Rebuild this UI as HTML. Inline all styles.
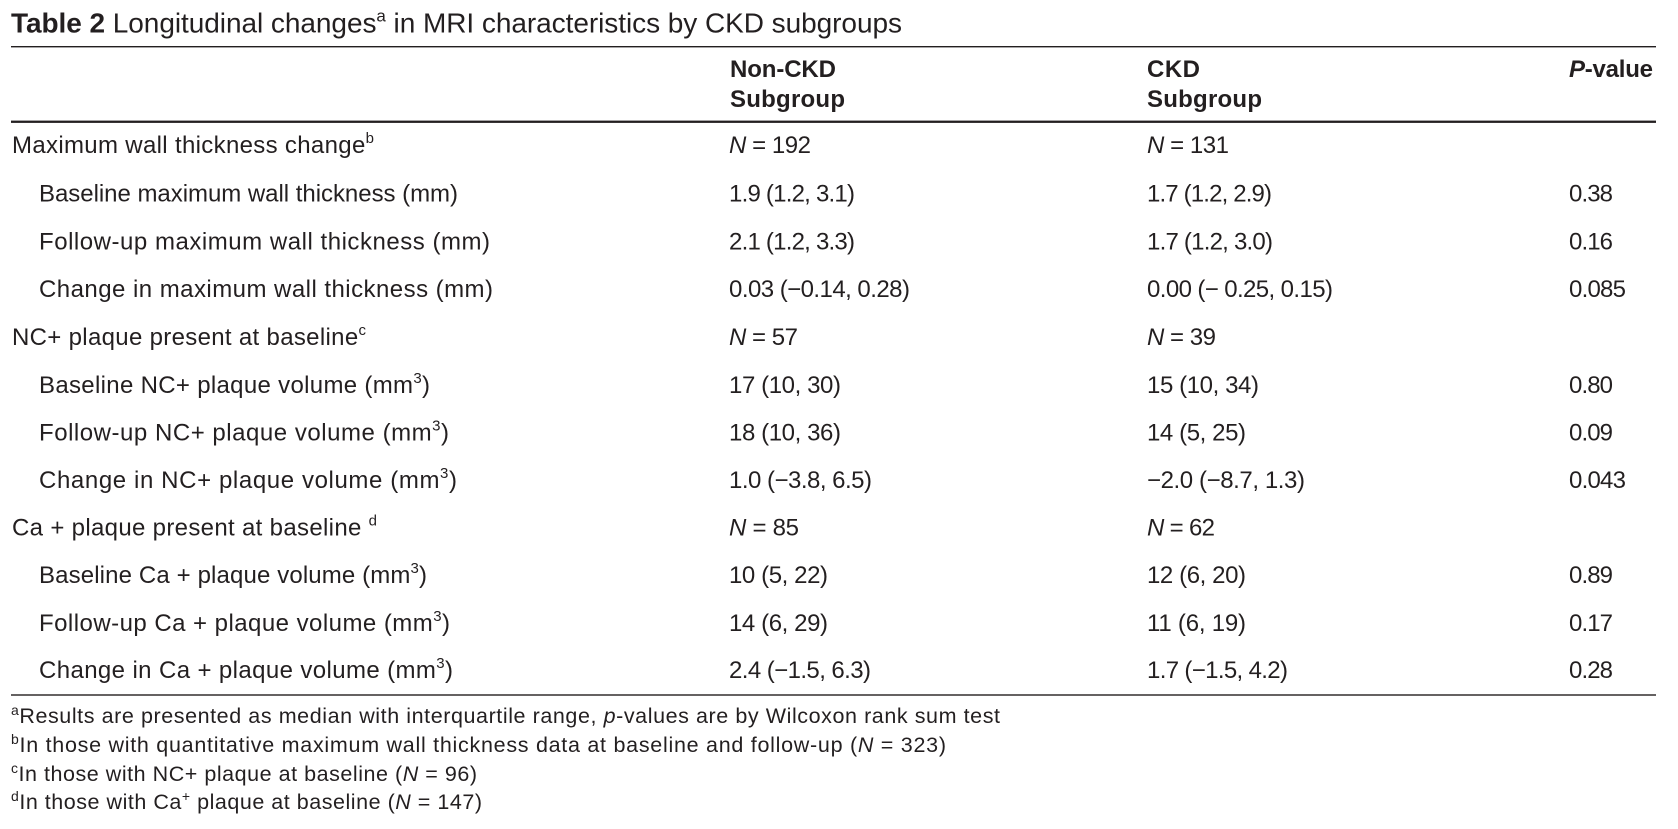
<!DOCTYPE html>
<html>
<head>
<meta charset="utf-8">
<style>
html,body{margin:0;padding:0;background:#fff;width:1678px;height:829px;overflow:hidden}
svg{display:block}
</style>
</head>
<body>
<svg width="1678" height="829" viewBox="0 0 1678 829" xmlns="http://www.w3.org/2000/svg" font-family="'Liberation Sans', Arial, sans-serif" fill="#231f20">
<!-- Title -->
<text x="11" y="32.5" font-size="28" textLength="891"><tspan font-weight="bold">Table 2</tspan> Longitudinal changes<tspan font-size="17" dy="-11">a</tspan><tspan dy="11"> in MRI characteristics by CKD subgroups</tspan></text>

<!-- Rules -->
<rect x="11" y="46" width="1645" height="1.4" fill="#231f20"/>
<rect x="11" y="120.6" width="1645" height="2.3" fill="#231f20"/>
<rect x="11" y="694.3" width="1645" height="1.4" fill="#231f20"/>

<!-- Header -->
<g font-weight="bold" font-size="24">
<text x="730" y="77" textLength="106">Non-CKD</text>
<text x="730" y="107" textLength="115">Subgroup</text>
<text x="1147" y="77" textLength="53">CKD</text>
<text x="1147" y="107" textLength="115">Subgroup</text>
<text x="1569" y="77" textLength="84"><tspan font-style="italic">P</tspan>-value</text>
</g>

<!-- Row labels -->
<g font-size="24">
<text x="12" y="153" textLength="362">Maximum wall thickness change<tspan font-size="15" dy="-10">b</tspan></text>
<text x="39" y="201.5" textLength="419">Baseline maximum wall thickness (mm)</text>
<text x="39" y="249.5" textLength="451">Follow-up maximum wall thickness (mm)</text>
<text x="39" y="297" textLength="454">Change in maximum wall thickness (mm)</text>
<text x="12" y="345" textLength="354">NC+ plaque present at baseline<tspan font-size="15" dy="-10">c</tspan></text>
<text x="39" y="393" textLength="391">Baseline NC+ plaque volume (mm<tspan font-size="15" dy="-10">3</tspan><tspan dy="10">)</tspan></text>
<text x="39" y="440.5" textLength="410">Follow-up NC+ plaque volume (mm<tspan font-size="15" dy="-10">3</tspan><tspan dy="10">)</tspan></text>
<text x="39" y="488" textLength="418">Change in NC+ plaque volume (mm<tspan font-size="15" dy="-10">3</tspan><tspan dy="10">)</tspan></text>
<text x="12" y="535.5" textLength="365">Ca + plaque present at baseline <tspan font-size="15" dy="-10">d</tspan></text>
<text x="39" y="583" textLength="388">Baseline Ca + plaque volume (mm<tspan font-size="15" dy="-10">3</tspan><tspan dy="10">)</tspan></text>
<text x="39" y="631" textLength="411">Follow-up Ca + plaque volume (mm<tspan font-size="15" dy="-10">3</tspan><tspan dy="10">)</tspan></text>
<text x="39" y="678" textLength="414">Change in Ca + plaque volume (mm<tspan font-size="15" dy="-10">3</tspan><tspan dy="10">)</tspan></text>
</g>

<!-- Non-CKD column -->
<g font-size="24">
<text x="729" y="153" textLength="82"><tspan font-style="italic">N</tspan> = 192</text>
<text x="729" y="201.5" textLength="126">1.9 (1.2, 3.1)</text>
<text x="729" y="249.5" textLength="126">2.1 (1.2, 3.3)</text>
<text x="729" y="297" textLength="181">0.03 (−0.14, 0.28)</text>
<text x="729" y="345" textLength="69"><tspan font-style="italic">N</tspan> = 57</text>
<text x="729" y="393" textLength="112">17 (10, 30)</text>
<text x="729" y="440.5" textLength="112">18 (10, 36)</text>
<text x="729" y="488" textLength="143">1.0 (−3.8, 6.5)</text>
<text x="729" y="535.5" textLength="70"><tspan font-style="italic">N</tspan> = 85</text>
<text x="729" y="583" textLength="99">10 (5, 22)</text>
<text x="729" y="631" textLength="99">14 (6, 29)</text>
<text x="729" y="678" textLength="142">2.4 (−1.5, 6.3)</text>
</g>

<!-- CKD column -->
<g font-size="24">
<text x="1147" y="153" textLength="82"><tspan font-style="italic">N</tspan> = 131</text>
<text x="1147" y="201.5" textLength="125">1.7 (1.2, 2.9)</text>
<text x="1147" y="249.5" textLength="126">1.7 (1.2, 3.0)</text>
<text x="1147" y="297" textLength="186">0.00 (− 0.25, 0.15)</text>
<text x="1147" y="345" textLength="69"><tspan font-style="italic">N</tspan> = 39</text>
<text x="1147" y="393" textLength="112">15 (10, 34)</text>
<text x="1147" y="440.5" textLength="99">14 (5, 25)</text>
<text x="1147" y="488" textLength="158">−2.0 (−8.7, 1.3)</text>
<text x="1147" y="535.5" textLength="68"><tspan font-style="italic">N</tspan> = 62</text>
<text x="1147" y="583" textLength="99">12 (6, 20)</text>
<text x="1147" y="631" textLength="99">11 (6, 19)</text>
<text x="1147" y="678" textLength="141">1.7 (−1.5, 4.2)</text>
</g>

<!-- P-value column -->
<g font-size="24">
<text x="1569" y="201.5" textLength="44">0.38</text>
<text x="1569" y="249.5" textLength="44">0.16</text>
<text x="1569" y="297" textLength="57">0.085</text>
<text x="1569" y="393" textLength="44">0.80</text>
<text x="1569" y="440.5" textLength="44">0.09</text>
<text x="1569" y="488" textLength="57">0.043</text>
<text x="1569" y="583" textLength="44">0.89</text>
<text x="1569" y="631" textLength="44">0.17</text>
<text x="1569" y="678" textLength="44">0.28</text>
</g>

<!-- Footnotes -->
<g font-size="21.5">
<text x="11" y="723" textLength="989"><tspan font-size="14" dy="-8">a</tspan><tspan dy="8">Results are presented as median with interquartile range, </tspan><tspan font-style="italic">p</tspan>-values are by Wilcoxon rank sum test</text>
<text x="11" y="752" textLength="935"><tspan font-size="14" dy="-8">b</tspan><tspan dy="8">In those with quantitative maximum wall thickness data at baseline and follow-up (</tspan><tspan font-style="italic">N</tspan> = 323)</text>
<text x="11" y="781" textLength="466"><tspan font-size="14" dy="-8">c</tspan><tspan dy="8">In those with NC+ plaque at baseline (</tspan><tspan font-style="italic">N</tspan> = 96)</text>
<text x="11" y="809" textLength="471"><tspan font-size="14" dy="-8">d</tspan><tspan dy="8">In those with Ca</tspan><tspan font-size="14" dy="-8">+</tspan><tspan dy="8"> plaque at baseline (</tspan><tspan font-style="italic">N</tspan> = 147)</text>
</g>
</svg>
</body>
</html>
